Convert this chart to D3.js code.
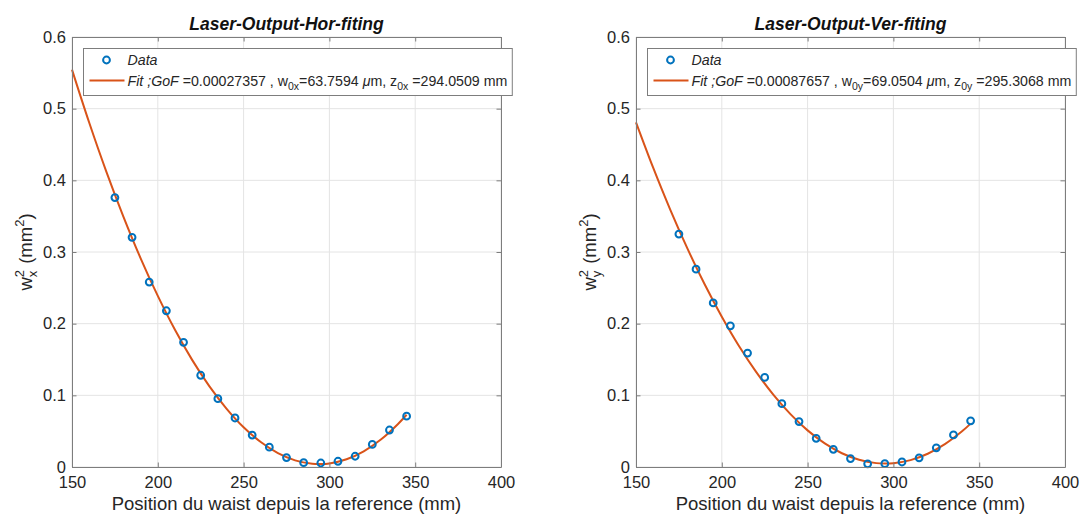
<!DOCTYPE html>
<html><head><meta charset="utf-8">
<script src="https://cdn.jsdelivr.net/npm/d3@7"></script>
<style>
body{margin:0;background:#fff;}
text{font-family:"Liberation Sans",Arial,Helvetica,sans-serif;white-space:pre;}
</style>
</head><body>
<svg id="c" width="1089" height="514"></svg>
<script>
// ---------- data ----------
const xTicks = [150, 200, 250, 300, 350, 400];
const yTicks = [0, 0.1, 0.2, 0.3, 0.4, 0.5, 0.6];
const yTickLabels = ["0", "0.1", "0.2", "0.3", "0.4", "0.5", "0.6"];
const positions = [175, 185, 195, 205, 215, 225, 235, 245, 255, 265, 275, 285, 295, 305, 315, 325, 335, 345];
const dataHor = [0.376, 0.3205, 0.258, 0.218, 0.174, 0.128, 0.0953, 0.0684, 0.0446, 0.0277, 0.0131, 0.0061, 0.0056, 0.008, 0.015, 0.0315, 0.0516, 0.0709];
const dataVer = [0.325, 0.276, 0.229, 0.197, 0.159, 0.125, 0.0884, 0.0634, 0.040, 0.0247, 0.0117, 0.0045, 0.0047, 0.007, 0.0128, 0.0268, 0.0448, 0.0645];
const fitX = [150, 160, 170, 180, 190, 200, 210, 220, 230, 240, 250, 260, 270, 280, 290, 295, 300, 310, 320, 330, 340, 345];
const fitHor = [0.5545, 0.4807, 0.4122, 0.3491, 0.2912, 0.2387, 0.1914, 0.1495, 0.1129, 0.0816, 0.0555, 0.0348, 0.0194, 0.0093, 0.0045, 0.0041, 0.0050, 0.0108, 0.0219, 0.0383, 0.0601, 0.0729];
const fitVer = [0.4810, 0.4177, 0.3589, 0.3047, 0.2549, 0.2097, 0.1689, 0.1327, 0.1010, 0.0738, 0.0511, 0.0329, 0.0192, 0.0101, 0.0054, 0.0048, 0.0053, 0.0096, 0.0185, 0.0319, 0.0498, 0.0605];
const titles = ["Laser-Output-Hor-fiting", "Laser-Output-Ver-fiting"];
const axisSub = ["x", "y"];
const legendGoF = ["0.00027357", "0.00087657"];
const legendW0 = ["63.7594", "69.0504"];
const legendZ0 = ["294.0509", "295.3068"];
const xLabel = "Position du waist depuis la reference (mm)";

// ---------- layout ----------
const panels = [
  {left: 72, right: 501, data: dataHor, fit: fitHor},
  {left: 636, right: 1065, data: dataVer, fit: fitVer}
];
const plotTop = 37, plotBottom = 467;
const BLUE = "#0072BD", ORANGE = "#D95319";
const AX = "#7d7d7d", TXT = "#262626", GRID = "#e4e4e4";
const FONT = '"Liberation Sans",Arial,Helvetica,sans-serif';

const svg = d3.select("#c");

panels.forEach((p, i) => {
  const x = d3.scaleLinear().domain([150, 400]).range([p.left, p.right]);
  const y = d3.scaleLinear().domain([0, 0.6]).range([plotBottom, plotTop]);
  const g = svg.append("g");

  // grid
  g.append("g").selectAll("line").data(xTicks).join("line")
    .attr("x1", d => x(d)).attr("x2", d => x(d)).attr("y1", plotTop).attr("y2", plotBottom)
    .attr("stroke", GRID).attr("stroke-width", 1);
  g.append("g").selectAll("line").data(yTicks).join("line")
    .attr("y1", d => y(d)).attr("y2", d => y(d)).attr("x1", p.left).attr("x2", p.right)
    .attr("stroke", GRID).attr("stroke-width", 1);

  // fit curve
  const line = d3.line().x((d, k) => x(fitX[k])).y(d => y(d)).curve(d3.curveCatmullRom.alpha(0.5));
  g.append("path").attr("d", line(p.fit)).attr("fill", "none")
    .attr("stroke", ORANGE).attr("stroke-width", 2);

  // data points
  g.append("g").selectAll("circle").data(p.data).join("circle")
    .attr("cx", (d, k) => x(positions[k])).attr("cy", d => y(d)).attr("r", 3.4)
    .attr("fill", "none").attr("stroke", BLUE).attr("stroke-width", 2);

  // axes via d3 axes (inward ticks)
  const tl = 4.5;
  const axB = d3.axisBottom(x).tickValues(xTicks).tickSizeInner(-tl).tickSizeOuter(0).tickPadding(9).tickFormat(d3.format("d"));
  const axT = d3.axisTop(x).tickValues(xTicks).tickSizeInner(-tl).tickSizeOuter(0).tickFormat("");
  const axL = d3.axisLeft(y).tickValues(yTicks).tickSizeInner(-tl).tickSizeOuter(0).tickPadding(6).tickFormat((d, k) => yTickLabels[k]);
  const axR = d3.axisRight(y).tickValues(yTicks).tickSizeInner(-tl).tickSizeOuter(0).tickFormat("");
  const styleAx = sel => {
    sel.selectAll("path").attr("stroke", AX).attr("stroke-width", 1);
    sel.selectAll("line").attr("stroke", AX).attr("stroke-width", 1);
    sel.selectAll("text").attr("fill", TXT).style("font-size", "16.5px").style("font-family", FONT);
  };
  g.append("g").attr("transform", `translate(0,${plotBottom})`).call(axB).call(styleAx);
  g.append("g").attr("transform", `translate(0,${plotTop})`).call(axT).call(styleAx);
  g.append("g").attr("transform", `translate(${p.left},0)`).call(axL).call(styleAx);
  g.append("g").attr("transform", `translate(${p.right},0)`).call(axR).call(styleAx);

  // title
  const cx = (p.left + p.right) / 2;
  g.append("text").attr("x", cx).attr("y", 30).attr("text-anchor", "middle")
    .style("font-size", "17.5px").style("font-weight", "bold").style("font-style", "italic")
    .attr("fill", "#111").text(titles[i]);

  // x label
  g.append("text").attr("x", cx).attr("y", 510).attr("text-anchor", "middle")
    .style("font-size", "18.5px").attr("fill", TXT).text(xLabel);

  // y label (rotated, with stacked super/subscript)
  const yl = g.append("g").attr("transform", `translate(${p.left - 40},${(plotTop + plotBottom) / 2}) rotate(-90)`);
  const inner = yl.append("g");
  let cur = 0;
  const add = (t, size, dy) => {
    const el = inner.append("text").attr("x", cur).attr("y", dy).style("font-size", size + "px")
      .attr("fill", TXT).text(t);
    return el.node().getComputedTextLength();
  };
  cur += add("w", 18.5, 0);
  const w1 = add("2", 13, -8.5);
  const w2 = add(axisSub[i], 13, 4.5);
  cur += Math.max(w1, w2) + 1;
  cur += add(" (mm", 18.5, 0);
  cur += add("2", 13, -8.5);
  cur += add(")", 18.5, 0);
  inner.attr("transform", `translate(${-cur / 2},0)`);

  // legend
  const lx = p.left + 11.5, ly = 48.5, lh = 47;
  const leg = g.append("g");
  const rect = leg.append("rect").attr("x", lx).attr("y", ly).attr("height", lh)
    .attr("fill", "#fff").attr("stroke", AX).attr("stroke-width", 1);
  leg.append("circle").attr("cx", lx + 23).attr("cy", ly + 11.5).attr("r", 3.4)
    .attr("fill", "none").attr("stroke", BLUE).attr("stroke-width", 2);
  leg.append("text").attr("x", lx + 44).attr("y", ly + 16.5).style("font-size", "14.2px")
    .style("font-style", "italic").attr("fill", TXT).text("Data");
  leg.append("line").attr("x1", lx + 6).attr("x2", lx + 41).attr("y1", ly + 32).attr("y2", ly + 32)
    .attr("stroke", ORANGE).attr("stroke-width", 2);
  const ft = leg.append("text").attr("x", lx + 44).attr("y", ly + 37).style("font-size", "14.2px").attr("fill", TXT);
  ft.append("tspan").style("font-style", "italic").text("Fit ;GoF");
  ft.append("tspan").text(" =" + legendGoF[i] + " , w");
  ft.append("tspan").attr("dy", 4).style("font-size", "10.5px").text("0" + axisSub[i]);
  ft.append("tspan").attr("dy", -4).text("=" + legendW0[i] + " ");
  ft.append("tspan").style("font-style", "italic").text("\u03BC");
  ft.append("tspan").text("m, z");
  ft.append("tspan").attr("dy", 4).style("font-size", "10.5px").text("0" + axisSub[i]);
  ft.append("tspan").attr("dy", -4).text(" =" + legendZ0[i] + " mm");
  const tw = ft.node().getComputedTextLength();
  rect.attr("width", 44 + tw + 5);
});
</script>
</body></html>
